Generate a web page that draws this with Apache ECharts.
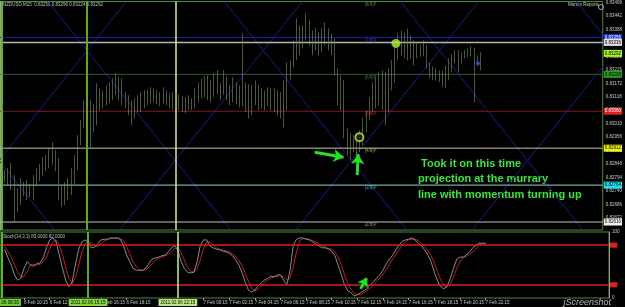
<!DOCTYPE html>
<html><head><meta charset="utf-8">
<script src="https://cdn.jsdelivr.net/npm/echarts@6/dist/echarts.min.js"></script>
<style>html,body{margin:0;padding:0;background:#000;}#c{width:625px;height:307px;}</style>
</head><body><div id="c"></div>
<script>
const symbolName = 'NZDUSD,M15';
const startTimeUTC = Date.UTC(2011, 1, 6, 8, 30);
const slotCount = 190;

const openP = [0.82804,0.82792,0.82816,0.82764,0.82724,0.82704,0.82764,0.82744,0.82760,0.82736,
0.82784,0.82816,0.82824,0.82856,0.82864,0.82896,0.82884,0.82844,0.82744,0.82704,
0.82744,0.82764,0.82816,0.82864,0.82944,0.83004,0.83084,0.83064,0.83004,0.83064,
0.83124,0.83104,0.83116,0.83136,0.83124,0.83164,0.83144,0.83124,0.83104,0.83088,
0.83072,0.83044,0.83084,0.83104,0.83084,0.83120,0.83104,0.83128,0.83112,0.83124,
0.83104,0.83132,0.83112,0.83104,0.83088,0.83112,0.83092,0.83080,0.83096,0.83084,
0.83104,0.83136,0.83160,0.83144,0.83168,0.83136,0.83152,0.83184,0.83160,0.83136,
0.83192,0.83144,0.83120,0.83164,0.83124,0.83104,0.83144,0.83104,0.83072,0.83124,
0.83144,0.83104,0.83124,0.83096,0.83120,0.83088,0.83104,0.83072,0.83056,0.83104,
0.83224,0.83244,0.83324,0.83384,0.83344,0.83376,0.83424,0.83364,0.83324,0.83352,
0.83312,0.83364,0.83384,0.83336,0.83312,0.83224,0.83124,0.83104,0.82976,0.82924,
0.82944,0.82912,0.82936,0.82964,0.83004,0.83044,0.83096,0.83144,0.83112,0.83164,
0.83124,0.83084,0.83184,0.83224,0.83312,0.83344,0.83324,0.83352,0.83304,0.83324,
0.83284,0.83312,0.83296,0.83312,0.83244,0.83216,0.83204,0.83216,0.83192,0.83176,
0.83224,0.83256,0.83272,0.83284,0.83264,0.83284,0.83292,0.83304,0.83296,0.83264,
0.83256];
const closeP = [0.82792,0.82816,0.82764,0.82724,0.82704,0.82764,0.82744,0.82760,0.82736,0.82784,
0.82816,0.82824,0.82856,0.82864,0.82896,0.82884,0.82844,0.82744,0.82704,0.82744,
0.82764,0.82816,0.82864,0.82944,0.83004,0.83084,0.83064,0.83004,0.83064,0.83124,
0.83104,0.83116,0.83136,0.83124,0.83164,0.83144,0.83124,0.83104,0.83088,0.83072,
0.83044,0.83084,0.83104,0.83084,0.83120,0.83104,0.83128,0.83112,0.83124,0.83104,
0.83132,0.83112,0.83104,0.83088,0.83112,0.83092,0.83080,0.83096,0.83084,0.83104,
0.83136,0.83160,0.83144,0.83168,0.83136,0.83152,0.83184,0.83160,0.83136,0.83192,
0.83144,0.83120,0.83164,0.83124,0.83104,0.83144,0.83104,0.83072,0.83124,0.83144,
0.83104,0.83124,0.83096,0.83120,0.83088,0.83104,0.83072,0.83056,0.83104,0.83224,
0.83244,0.83324,0.83384,0.83344,0.83376,0.83424,0.83364,0.83324,0.83352,0.83312,
0.83364,0.83384,0.83336,0.83312,0.83224,0.83124,0.83104,0.82976,0.82924,0.82944,
0.82912,0.82936,0.82964,0.83004,0.83044,0.83096,0.83144,0.83112,0.83164,0.83124,
0.83084,0.83184,0.83224,0.83312,0.83344,0.83324,0.83352,0.83304,0.83324,0.83284,
0.83312,0.83296,0.83324,0.83244,0.83216,0.83204,0.83216,0.83192,0.83176,0.83224,
0.83256,0.83272,0.83284,0.83264,0.83284,0.83292,0.83304,0.83296,0.83264,0.83256,
0.83292];
const lowP = [0.82776,0.82764,0.82744,0.82612,0.82656,0.82684,0.82720,0.82704,0.82716,0.82704,
0.82760,0.82780,0.82800,0.82820,0.82832,0.82844,0.82820,0.82704,0.82676,0.82684,
0.82704,0.82724,0.82764,0.82824,0.82924,0.82992,0.83032,0.82916,0.82976,0.83004,
0.83064,0.83072,0.83084,0.83092,0.83104,0.83124,0.83104,0.83084,0.83072,0.83044,
0.83004,0.83032,0.83056,0.83056,0.83072,0.83084,0.83092,0.83096,0.83088,0.83080,
0.83092,0.83084,0.83072,0.83064,0.83072,0.83064,0.83056,0.83052,0.83064,0.83064,
0.83072,0.83096,0.83112,0.83116,0.83104,0.83096,0.83120,0.83128,0.83104,0.83124,
0.83104,0.83084,0.83096,0.83088,0.83076,0.83080,0.83056,0.83032,0.83044,0.83084,
0.83064,0.83072,0.83064,0.83080,0.83064,0.83056,0.83044,0.83032,0.82996,0.83064,
0.83184,0.83236,0.83264,0.83284,0.83312,0.83344,0.83324,0.83284,0.83304,0.83284,
0.83296,0.83324,0.83304,0.83284,0.83204,0.83084,0.83064,0.82952,0.82884,0.82864,
0.82896,0.82880,0.82896,0.82924,0.82976,0.83024,0.83056,0.83072,0.83084,0.83064,
0.83004,0.83056,0.83144,0.83176,0.83264,0.83284,0.83272,0.83264,0.83272,0.83244,
0.83272,0.83280,0.83280,0.83232,0.83192,0.83184,0.83184,0.83176,0.83160,0.83152,
0.83184,0.83216,0.83252,0.83216,0.83252,0.83272,0.83276,0.83280,0.83096,0.83240,
0.83224];
const highP = [0.82824,0.82832,0.82852,0.82804,0.82752,0.82792,0.82776,0.82784,0.82768,0.82804,
0.82832,0.82848,0.82876,0.82884,0.82908,0.82936,0.82904,0.82872,0.82764,0.82776,
0.82792,0.82832,0.82884,0.82964,0.83024,0.83104,0.83116,0.83104,0.83088,0.83172,
0.83152,0.83144,0.83164,0.83176,0.83192,0.83212,0.83200,0.83192,0.83136,0.83124,
0.83104,0.83112,0.83124,0.83136,0.83144,0.83148,0.83156,0.83152,0.83144,0.83136,
0.83156,0.83144,0.83132,0.83136,0.83132,0.83128,0.83120,0.83116,0.83124,0.83112,
0.83152,0.83176,0.83192,0.83200,0.83204,0.83184,0.83212,0.83224,0.83172,0.83224,
0.83200,0.83164,0.83196,0.83176,0.83164,0.83372,0.83176,0.83168,0.83164,0.83184,
0.83164,0.83152,0.83144,0.83156,0.83152,0.83152,0.83144,0.83136,0.83184,0.83256,
0.83264,0.83344,0.83432,0.83404,0.83404,0.83452,0.83424,0.83384,0.83392,0.83376,
0.83392,0.83416,0.83392,0.83372,0.83352,0.83232,0.83204,0.83184,0.82992,0.82972,
0.82964,0.82972,0.82984,0.83032,0.83064,0.83116,0.83176,0.83196,0.83216,0.83224,
0.83216,0.83232,0.83264,0.83336,0.83372,0.83384,0.83376,0.83392,0.83364,0.83344,
0.83336,0.83324,0.83344,0.83324,0.83256,0.83240,0.83232,0.83224,0.83224,0.83244,
0.83272,0.83288,0.83304,0.83304,0.83296,0.83304,0.83312,0.83320,0.83316,0.83284,
0.83296];

const stochK = [73,61,50,35,27,30,45,55,50,48, 52,53,61,76,88,91,85,65,45,27,
17,24,50,73,85,88,85,76,77,82, 88,89,89,91,91,91,89,80,65,55,
45,42,42,42,45,53,59,61,62,64, 65,70,76,79,73,55,45,39,38,39,
55,80,88,88,79,76,74,73,71,70, 68,64,58,50,39,24,12,9,12,18,
23,27,30,33,32,35,35,27,20,42, 80,89,91,91,89,88,85,82,79,76,
76,74,71,64,50,35,20,11,8,3, 5,8,11,14,20,24,30,35,42,52,
59,65,73,80,86,88,89,91,88,83, 79,73,65,55,39,26,17,14,18,30,
45,59,62,62,65,70,76,80,83,83, 83];
const stochD = [78,70,62,50,40,32,33,40,50,51, 50,51,55,62,75,85,88,80,66,46,
30,22,30,48,69,82,86,83,79,78, 82,86,89,90,90,91,90,87,78,67,
55,48,43,42,43,47,52,58,60,62, 64,66,70,75,76,69,58,46,41,39,
44,58,74,85,85,81,76,74,73,71, 70,67,63,57,49,38,25,15,11,13,
18,23,27,30,32,33,34,32,27,30, 47,70,87,90,90,89,87,85,82,79,
77,75,74,70,62,50,35,22,13,7, 5,5,8,11,15,19,25,30,36,43,
51,59,66,73,80,85,88,89,89,87, 83,78,72,64,53,40,27,19,16,21,
31,45,55,61,63,66,70,75,80,82, 82];

const priceTicks = [0.83496,0.83442,0.83388,0.83334,0.83280,0.83226,0.83172,0.83118,0.83064,
0.83010,0.82956,0.82902,0.82848,0.82794,0.82740,0.82686,0.82632];
const timeTickLabels = ['6 Feb 10:15','6 Feb 12:15','6 Feb 16:15','6 Feb 18:15','7 Feb 00:15','7 Feb 02:15',
'7 Feb 04:15','7 Feb 06:15','7 Feb 08:15','7 Feb 10:15','7 Feb 12:15','7 Feb 14:15','7 Feb 16:15',
'7 Feb 18:15','7 Feb 20:15','7 Feb 22:15'];
const murrayLevels = [0.83500, 0.83356, 0.83208, 0.83060, 0.82912, 0.82764, 0.82616];
const murrayNames = ['[8/8]P','[7/8]P','[6/8]P','[5/8]P','[4/8]P','[3/8]P','[2/8]P'];
const extraLevel = 0.83336;
const timeLineIdx = [0, 27, 55];
const diagonalLines = [
 [[-40.4,0.83500],[17.2,0.82584]], [[15.1,0.83500],[72.8,0.82584]], [[70.7,0.83500],[128.3,0.82584]],
 [[126.2,0.83500],[183.8,0.82584]], [[181.7,0.83500],[239.3,0.82584]],
 [[39.8,0.83500],[-17.8,0.82584]], [[95.3,0.83500],[37.7,0.82584]], [[150.9,0.83500],[93.2,0.82584]],
 [[206.4,0.83500],[148.8,0.82584]]
];
const entryMarks = [[124.8,0.83332],[113.3,0.82956]];
const blueDot = [150.7,0.83252];
const priceArrows = [[[99.2,0.82896],[108.3,0.82876]],[[112.6,0.82804],[112.9,0.82888]]];
const stochArrow = [[112,14],[114,31]];
const stochLevels = [80, 20];
const noteText = [' Took it on this time','projection at the murrary','line with momentum turning up'];

// ---------- build ----------
const months = ['Jan','Feb','Mar','Apr','May','Jun','Jul','Aug','Sep','Oct','Nov','Dec'];
const p2 = n => String(n).padStart(2,'0');
const categories = [], fullTimes = [];
for (let i = 0; i < slotCount; i++) {
  const d = new Date(startTimeUTC + i*15*60000);
  const hm = p2(d.getUTCHours()) + ':' + p2(d.getUTCMinutes());
  categories.push(d.getUTCDate() + ' ' + months[d.getUTCMonth()] + ' ' + hm);
  fullTimes.push(d.getUTCFullYear() + '.' + p2(d.getUTCMonth()+1) + '.' + p2(d.getUTCDate()) + ' ' + hm);
}
const candleData = openP.map((o,k) => [k+1, o, closeP[k], lowP[k], highP[k]]);
const kData = stochK.map((v,k) => [k+1, v]);
const dData = stochD.map((v,k) => [k+1, v]);
const tickSet = new Set(timeTickLabels);
const last = openP.length - 1;

const lineCols = ['#4f8a35','#1c1cb0','#2f5a2f','#7a1c1c','#c8c8a0','#a0cccc','#c4c4c4'];
const boxCols  = [null,'#1530d0','#22a022','#e02020','#f0f020','#20e0f0','#f0f0f0'];
const boxText  = [null,'#fff','#000','#fff','#000','#000','#000'];
const nameCols = ['#6a8a5a','#3a48d0','#3f8a3f','#d03030','#c8b860','#40c8c8','#a8a8a8'];

function hSeries(v, color, width, box, txt, z) {
  return {type: 'line', xAxisIndex: 2, yAxisIndex: 0, data: [[0, v], [slotCount, v]], symbol: 'none',
    silent: true, z: z, lineStyle: {color: color, width: width, opacity: color ? 1 : 0},
    endLabel: box ? {show: true, formatter: v.toFixed(5), fontSize: 4.5, fontFamily: 'Liberation Sans',
      backgroundColor: box, color: txt, padding: [1,1], distance: 1} : {show: false}};
}
const levelSeries = [];
murrayLevels.forEach((v,k) => { if (k > 0) levelSeries.push(hSeries(v, lineCols[k], 1, boxCols[k], boxText[k], 2)); });
levelSeries.push(hSeries(extraLevel, '#b4b4b4', 1.5, '#e0e0e0', '#000', 3));
levelSeries.push(hSeries(closeP[last], null, 1, '#a8f028', '#000', 3));

const vCols = ['#5cb42c','#5aa82e','#c8f0a0'];
const vWid = [2, 2, 1.5];
const vMark = timeLineIdx.map((ix,k) => ({xAxis: ix + 0.5, lineStyle: {color: vCols[k], width: vWid[k], type: 'solid'}, label: {show: false}}));

const stochMark = [];
stochLevels.forEach(v => stochMark.push({yAxis: v, lineStyle: {color: '#d42020', width: 1.5, type: 'solid'},
  label: {show: true, position: 'end', distance: 1, formatter: String(v), fontSize: 3, color: '#e02020',
    backgroundColor: '#e02020', padding: [1,2]}}));
const hlCols = ['#70cc30','#86d83a','#bce87c'];
timeLineIdx.forEach((ix,k) => stochMark.push({xAxis: categories[ix], lineStyle: {color: vCols[k], width: vWid[k], type: 'solid'},
  label: {show: true, position: 'start', distance: 1, formatter: fullTimes[ix], fontSize: 4.5, color: '#000',
    backgroundColor: hlCols[k], padding: [1,2]}}));
stochMark.push([{coord: [categories[stochArrow[0][0]], stochArrow[0][1]], symbol: 'none'},
  {coord: [categories[stochArrow[1][0]], stochArrow[1][1]], symbol: 'arrow', symbolSize: 9,
   lineStyle: {color: '#22e022', width: 3}}]);

const diagSeries = diagonalLines.map((seg, k) => ({type: 'line', xAxisIndex: 2, yAxisIndex: 0, data: seg,
  symbol: 'none', silent: true, clip: true, z: 1, lineStyle: {color: '#1c1c86', width: 1},
  markLine: k === 0 ? {silent: true, symbol: ['none','none'], animation: false, data: vMark} : undefined}));

const smallFont = 'Liberation Sans';
const option = {
  backgroundColor: '#000',
  animation: false,
  grid: [
    {left: 0, right: 16, top: 1, height: 229, show: true, borderColor: '#4f8a35', borderWidth: 1},
    {left: 0, right: 16, top: 232, height: 66, show: true, borderColor: '#4f8a35', borderWidth: 1}
  ],
  xAxis: [
    {type: 'category', gridIndex: 0, data: categories, boundaryGap: true,
     axisLine: {show: false}, axisTick: {show: false}, axisLabel: {show: false}, splitLine: {show: false}},
    {type: 'category', gridIndex: 1, data: categories, boundaryGap: true,
     axisLine: {show: false},
     axisTick: {show: true, alignWithLabel: true, length: 2, interval: (i, v) => tickSet.has(v), lineStyle: {color: '#a0a0a0'}},
     axisLabel: {show: true, interval: (i, v) => tickSet.has(v), fontSize: 4.5, color: '#c8c8c8', align: 'left', margin: 2, fontFamily: smallFont},
     splitLine: {show: false}},
    {type: 'value', gridIndex: 0, min: 0, max: slotCount, show: false}
  ],
  yAxis: [
    {type: 'value', gridIndex: 0, position: 'right', min: 0.82584, max: 0.83500,
     axisLine: {show: true, lineStyle: {color: '#9a9a9a'}},
     axisTick: {show: true, length: 2, customValues: priceTicks, lineStyle: {color: '#9a9a9a'}},
     axisLabel: {show: true, customValues: priceTicks, formatter: v => v.toFixed(5), fontSize: 4.5, color: '#c8c8c8', margin: 3, fontFamily: smallFont},
     splitLine: {show: false}},
    {type: 'value', gridIndex: 1, position: 'right', min: 0, max: 100,
     axisLine: {show: true, lineStyle: {color: '#9a9a9a'}},
     axisTick: {show: false},
     axisLabel: {show: true, customValues: [0, 100], fontSize: 4.5, color: '#c8c8c8', margin: 3, fontFamily: smallFont},
     splitLine: {show: false}}
  ],
  series: [
    ...diagSeries,
    ...levelSeries,
    {type: 'candlestick', name: symbolName, xAxisIndex: 0, yAxisIndex: 0, data: candleData,
     encode: {x: 0, y: [1, 2, 3, 4]}, barWidth: 1, z: 5,
     itemStyle: {color: '#66764c', color0: '#66764c', borderColor: '#7f9163', borderColor0: '#7f9163', borderWidth: 0.6}},
    {type: 'scatter', xAxisIndex: 2, yAxisIndex: 0, z: 8, silent: true,
     data: murrayLevels.map((v,k) => ({value: [114.8, v - 0.00012], name: murrayNames[k],
       label: {color: nameCols[k]}})),
     symbolSize: 1, itemStyle: {color: 'rgba(0,0,0,0)'},
     label: {show: true, position: 'right', distance: 0, formatter: '{b}', fontSize: 4.5, fontFamily: smallFont}},
    {type: 'scatter', xAxisIndex: 2, yAxisIndex: 0, z: 9, silent: true,
     data: [
       {value: entryMarks[0], symbolSize: 9, itemStyle: {color: '#b4ec3c'}},
       {value: entryMarks[1], symbolSize: 8, itemStyle: {color: '#202010', borderColor: '#b4ec3c', borderWidth: 2}},
       {value: blueDot, symbolSize: 4, itemStyle: {color: '#3050ff'}}
     ],
     markLine: {silent: true, symbol: ['none','arrow'], symbolSize: 10, animation: false,
       lineStyle: {color: '#22e022', width: 3, type: 'solid'}, label: {show: false},
       data: priceArrows.map(a => [{coord: a[0]}, {coord: a[1]}])}},
    {type: 'line', name: 'K', xAxisIndex: 1, yAxisIndex: 1, data: kData, symbol: 'none', z: 4,
     lineStyle: {color: '#7c9090', width: 1},
     markLine: {silent: true, symbol: ['none','none'], animation: false, data: stochMark}},
    {type: 'line', name: 'D', xAxisIndex: 1, yAxisIndex: 1, data: dData, symbol: 'none', z: 3,
     lineStyle: {color: '#c41e1e', width: 1}}
  ],
  graphic: [
    {type: 'text', left: 3, top: 2, style: {text: symbolName + '  ' + openP[last].toFixed(5) + ' ' + highP[last].toFixed(5) + ' ' + lowP[last].toFixed(5) + ' ' + closeP[last].toFixed(5), fill: '#c0c0c0', font: '4.5px "Liberation Sans"'}},
    {type: 'text', left: 3, top: 234, style: {text: 'Stoch(14,3,3) ' + stochK[last].toFixed(4) + ' ' + stochD[last].toFixed(4), fill: '#c0c0c0', font: '4.5px "Liberation Sans"'}},
    {type: 'text', right: 26, top: 2, style: {text: 'Murrey Reports', fill: '#c8c8c8', font: '4.5px "Liberation Sans"'}},
    {type: 'circle', right: 19, top: 2, shape: {r: 2.5}, style: {fill: 'none', stroke: '#c8c8c8', lineWidth: 0.8}},
    {type: 'text', left: 418, top: 156, style: {text: noteText.join('\n'), fill: '#3ee43e', font: 'bold 11px "Liberation Sans"', lineHeight: 15.5}},
    {type: 'text', right: 14, bottom: 0, style: {text: 'jScreenshot', fill: '#b8b8b8', font: 'italic 9px "Liberation Sans"'}}
  ]
};
const chart = echarts.init(document.getElementById('c'), null, {renderer: 'canvas'});
chart.setOption(option);
</script>
</body></html>
